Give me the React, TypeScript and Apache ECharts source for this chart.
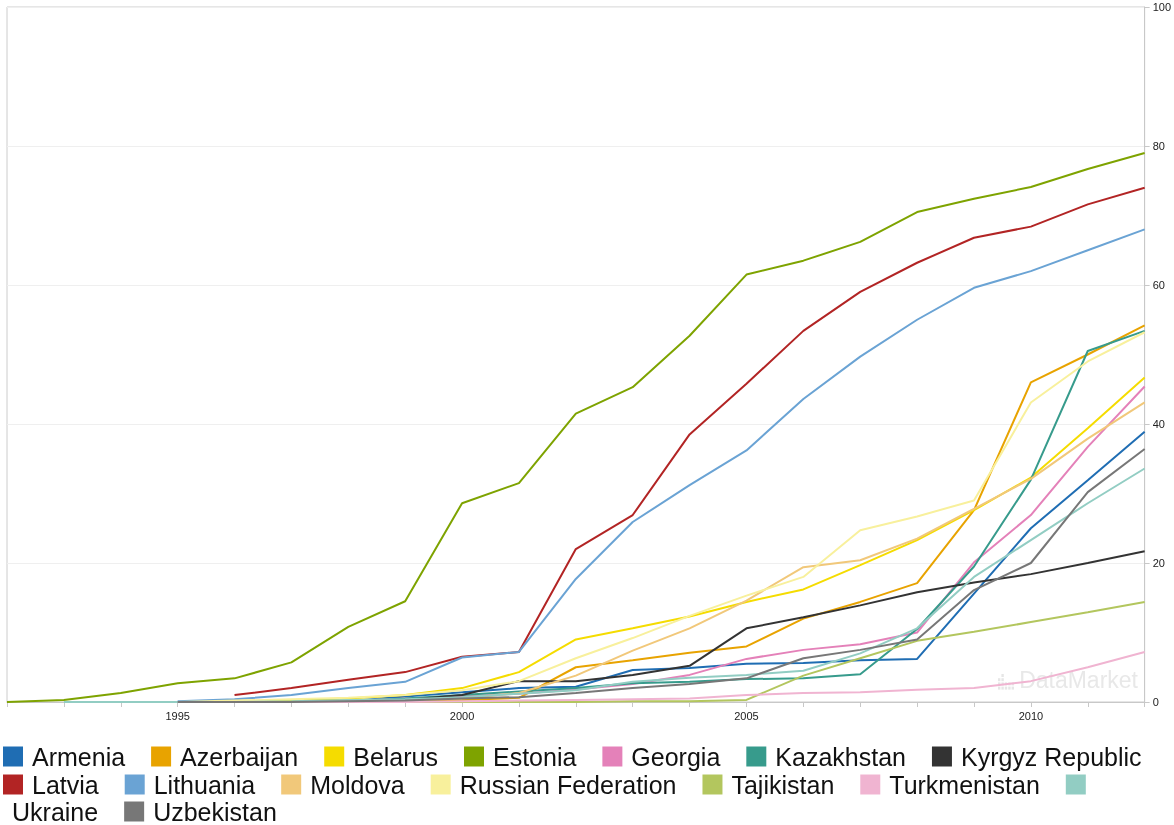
import React, { useEffect, useRef } from "react";
import * as echarts from "echarts";

const years: number[] = [];
for (let y = 1992; y <= 2012; y++) years.push(y);

const xTickLabels = ["1995", "2000", "2005", "2010"];
const yTickLabels = ["0", "20", "40", "60", "80", "100"];

const countries = [
  "Armenia", "Azerbaijan", "Belarus", "Estonia", "Georgia", "Kazakhstan", "Kyrgyz Republic",
  "Latvia", "Lithuania", "Moldova", "Russian Federation", "Tajikistan", "Turkmenistan",
  "Ukraine", "Uzbekistan",
];

const colors = [
  "#1f6db3", "#e8a300", "#f5dc00", "#7ea300", "#e481b9", "#379b8c", "#333333",
  "#b22424", "#6aa3d4", "#f1c87a", "#f8f09c", "#b3c65e", "#f0b4d1",
  "#92cdc3", "#777777",
];

const N = null;
const armenia = [N, N, N, 0, 0, 0.1, 0.1, 0.8, 1.4, 2.0, 2.2, 4.6, 4.9, 5.5, 5.6, 6.0, 6.2, 15.6, 25, 31.9, 38.9];
const azerbaijan = [N, N, N, 0, 0, 0, 0, 0.1, 0.3, 0.6, 5.0, 6.0, 7.1, 8.0, 12, 14.4, 17.1, 27.6, 46, 50, 54.2];
const belarus = [N, N, N, 0, 0.1, 0.2, 0.5, 1.0, 2.0, 4.3, 9.0, 10.6, 12.3, 14.4, 16.2, 19.7, 23.3, 27.6, 32.3, 39.4, 46.7];
const estonia = [0, 0.3, 1.3, 2.7, 3.4, 5.7, 10.8, 14.5, 28.6, 31.5, 41.5, 45.3, 52.7, 61.5, 63.5, 66.2, 70.5, 72.4, 74.1, 76.7, 79];
const georgia = [N, N, N, 0, 0, 0, 0.1, 0.5, 0.8, 1.2, 1.8, 2.6, 3.9, 6.2, 7.5, 8.3, 10, 20.1, 26.9, 36.7, 45.4];
const kazakhstan = [N, N, N, 0, 0, 0, 0.1, 0.5, 1.0, 1.5, 2.0, 2.7, 2.9, 3.3, 3.4, 4.0, 10.5, 19.5, 32, 50.5, 53.4];
const kyrgyz = [N, N, N, 0, 0, 0, 0, 0.3, 1.0, 3.0, 3.0, 3.9, 5.2, 10.6, 12.2, 13.9, 15.8, 17.2, 18.4, 20, 21.7];
const latvia = [N, N, N, N, 1.0, 2.0, 3.2, 4.3, 6.5, 7.2, 22, 26.9, 38.5, 45.8, 53.4, 59, 63.2, 66.8, 68.4, 71.6, 74];
const lithuania = [N, N, N, 0.1, 0.4, 1.0, 2.0, 2.9, 6.4, 7.2, 17.7, 25.9, 31.2, 36.2, 43.6, 49.7, 55, 59.6, 62, 65, 68];
const moldova = [N, N, N, 0, 0, 0, 0, 0.2, 0.5, 1.3, 3.8, 7.4, 10.6, 14.6, 19.4, 20.4, 23.5, 27.8, 32.1, 37.9, 43.1];
const russia = [N, N, N, 0, 0.2, 0.4, 0.6, 1.0, 1.7, 3.0, 6.3, 9.2, 12.4, 15.3, 18, 24.7, 26.7, 29, 43.1, 49, 53.2];
const tajikistan = [N, N, N, 0, 0, 0, 0, 0, 0, 0, 0, 0.1, 0.1, 0.3, 3.8, 6.3, 8.8, 10.1, 11.5, 12.9, 14.4];
const turkmenistan = [N, N, N, 0, 0, 0, 0, 0, 0.1, 0.2, 0.3, 0.4, 0.5, 1.0, 1.3, 1.4, 1.75, 2.0, 3.0, 5.0, 7.2];
const ukraine = [N, 0, 0, 0, 0, 0.1, 0.3, 0.4, 0.7, 1.2, 1.7, 2.9, 3.5, 3.9, 4.5, 7.0, 10.6, 18, 23.3, 28.6, 33.6];
const uzbekistan = [N, N, N, 0, 0, 0, 0.1, 0.2, 0.5, 0.7, 1.3, 2.0, 2.6, 3.4, 6.3, 7.5, 9.0, 16.1, 20, 30.2, 36.4];

const seriesValues = [
  armenia, azerbaijan, belarus, estonia, georgia, kazakhstan, kyrgyz,
  latvia, lithuania, moldova, russia, tajikistan, turkmenistan, ukraine, uzbekistan,
];

const legendRow1 = countries.slice(0, 7);
const legendRow2 = countries.slice(7, 14);

// small dotted logo beside the watermark
const logoDots: { x: number; y: number }[] = [];
[[1, 0], [0, 1], [1, 1], [0, 2], [1, 2], [2, 2], [3, 2], [4, 2], [0, 3], [1, 3], [2, 3], [3, 3], [4, 3]].forEach(([c, r]) =>
  logoDots.push({ x: c, y: r })
);

export default function App() {
  const ref = useRef<HTMLDivElement>(null);
  useEffect(() => {
    if (!ref.current) return;
    const chart = echarts.init(ref.current, undefined, { renderer: "svg" });
    const legendText = {
      fontSize: 25,
      lineHeight: 24,
      color: "#111",
      fontFamily: "Liberation Sans, Arial, sans-serif",
      padding: [0, 0, 0, 4],
    };
    const legendBase = {
      orient: "horizontal" as const,
      padding: 0,
      itemWidth: 20,
      itemHeight: 20,
      itemGap: 26,
      icon: "rect",
      textStyle: legendText,
      selectedMode: false,
    };
    chart.setOption({
      animation: false,
      color: colors,
      grid: { left: 7, right: 28, top: 7, bottom: 123, show: true, borderColor: "#cccccc", borderWidth: 1 },
      xAxis: {
        type: "value",
        min: 1992,
        max: 2012,
        interval: 1,
        axisLine: { show: true, lineStyle: { color: "#c8c8c8" } },
        axisTick: { show: true, length: 5, lineStyle: { color: "#c8c8c8" } },
        splitLine: { show: false },
        axisLabel: {
          fontSize: 11,
          color: "#222",
          fontFamily: "Liberation Sans, Arial, sans-serif",
          margin: 8,
          formatter: (v: number) => (xTickLabels.includes(String(v)) ? String(v) : ""),
        },
      },
      yAxis: {
        type: "value",
        position: "right",
        min: 0,
        max: 100,
        interval: 20,
        axisLine: { show: true, lineStyle: { color: "#c8c8c8" } },
        axisTick: { show: true, length: 5, lineStyle: { color: "#c8c8c8" } },
        splitLine: { show: true, lineStyle: { color: "#efefef" } },
        axisLabel: {
          fontSize: 11,
          color: "#222",
          fontFamily: "Liberation Sans, Arial, sans-serif",
          margin: 8,
          formatter: (v: number) => (yTickLabels.includes(String(v)) ? String(v) : ""),
        },
      },
      legend: [
        { ...legendBase, left: 3, top: 744, data: legendRow1 },
        {
          ...legendBase,
          left: 3,
          top: 772,
          data: legendRow2,
          formatter: (name: string) => (name === "Ukraine" ? "" : name),
        },
        {
          ...legendBase,
          left: -17,
          top: 799,
          data: [{ name: "Ukraine", icon: "none" }, { name: "Uzbekistan" }],
        },
      ],
      graphic: [
        {
          type: "text",
          right: 36,
          top: 668,
          style: {
            text: "DataMarket",
            fontSize: 23,
            fill: "#e8e8e8",
            fontFamily: "Liberation Sans, Arial, sans-serif",
          },
          z: 0,
        },
        {
          type: "group",
          left: 998,
          top: 674,
          z: 0,
          children: logoDots.map((d) => ({
            type: "rect",
            shape: { x: d.x * 3.4, y: d.y * 4.2, width: 2.4, height: 3 },
            style: { fill: "#e6e6e6" },
          })),
        },
      ],
      series: countries.map((name, i) => ({
        name,
        type: "line",
        data: years.map((y, j) => [y, seriesValues[i][j]]),
        showSymbol: false,
        symbol: "none",
        connectNulls: false,
        lineStyle: { width: 2, color: colors[i] },
        itemStyle: { color: colors[i] },
        z: 2,
      })),
    });
    return () => chart.dispose();
  }, []);
  return <div ref={ref} style={{ position: "fixed", left: 0, top: 0, width: 1174, height: 825 }} />;
}
